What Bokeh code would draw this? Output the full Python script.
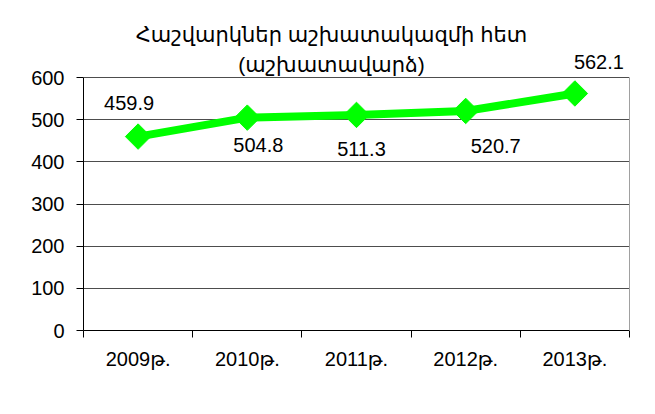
import numpy as np
from bokeh.plotting import figure
from bokeh.models import (Range1d, FixedTicker, ColumnDataSource, LabelSet, Label,
                          LinearAxis)
from bokeh.core.properties import value
from bokeh.embed import file_html
from bokeh.resources import INLINE

# ---- data ----
categories = ["2009թ.", "2010թ.", "2011թ.", "2012թ.", "2013թ."]
values = [459.9, 504.8, 511.3, 520.7, 562.1]
y_ticks = [0, 100, 200, 300, 400, 500, 600]
title_lines = ["Հաշվարկներ աշխատակազմի հետ", "(աշխատավարձ)"]

# label placement (screen px, relative to each point; positive dy = up)
label_dx = [-9, 11, 5, 30, 24]
label_dy = [34, -27, -34, -35, 31]

FONT = "Liberation Sans, DejaVu Sans, sans-serif"
GREEN = "#00FF00"

n = len(categories)
xs = [i + 0.5 for i in range(n)]
y_max = y_ticks[-1]

# layout (px)
W, H = 645, 400
left, right, top, bottom = 83, 16, 2, 70
plot_top = 77          # where y_max sits
frame_h = H - top - bottom
y_end = y_max * frame_h / (H - bottom - plot_top)

p = figure(width=W, height=H, output_backend="svg", toolbar_location=None,
           x_range=Range1d(0, n), y_range=Range1d(0, y_end),
           min_border_left=left, min_border_right=right, min_border_top=top,
           min_border_bottom=bottom)
p.background_fill_color = "white"
p.border_fill_color = "white"
p.outline_line_color = None

# grid
p.xgrid.visible = False
p.ygrid.ticker = FixedTicker(ticks=y_ticks)
p.ygrid.grid_line_color = "#4d4d4d"
p.ygrid.grid_line_width = 1

# y axis
ya = p.yaxis[0]
ya.ticker = FixedTicker(ticks=y_ticks)
ya.bounds = (0, y_max)
ya.axis_line_color = "black"
ya.major_tick_line_color = "black"
ya.major_tick_in = 0
ya.major_tick_out = 7
ya.minor_tick_line_color = None
ya.major_label_text_font = FONT
ya.major_label_text_font_size = "20px"
ya.major_label_text_color = "black"
ya.major_label_standoff = 12

# right border of the plot area
ra = LinearAxis(bounds=(0, y_max), ticker=FixedTicker(ticks=[]),
                axis_line_color="#a0a0a0", major_tick_line_color=None,
                minor_tick_line_color=None, major_label_text_font_size="0px")
p.add_layout(ra, "right")

# x axis
xa = p.xaxis[0]
xa.ticker = FixedTicker(ticks=xs, minor_ticks=list(range(n + 1)))
xa.major_label_overrides = {x: c for x, c in zip(xs, categories)}
xa.axis_line_color = "black"
xa.major_tick_in = 0
xa.major_tick_out = 0
xa.major_tick_line_color = None
xa.minor_tick_line_color = "black"
xa.minor_tick_in = 0
xa.minor_tick_out = 7
xa.major_label_text_font = FONT
xa.major_label_text_font_size = "20px"
xa.major_label_text_color = "black"
xa.major_label_standoff = 10

src = ColumnDataSource(dict(x=xs, y=values, lab=[f"{v:.1f}" for v in values],
                            dx=label_dx, dy=label_dy))

p.line("x", "y", source=src, line_color=GREEN, line_width=8, line_join="miter")
p.scatter("x", "y", source=src, marker="square", size=18, angle=np.pi / 4,
          fill_color=GREEN, line_color=GREEN)

labels = LabelSet(x="x", y="y", text="lab", source=src, x_offset="dx", y_offset="dy",
                  text_align="center", text_baseline="middle",
                  text_font=value(FONT), text_font_size=value("20px"),
                  text_color=value("black"))
p.add_layout(labels)

# title (two lines, above the plot area)
p.add_layout(Label(x=n / 2, y=y_max, x_offset=-25, y_offset=43, text=title_lines[0],
                   text_align="center", text_baseline="alphabetic",
                   text_font=FONT, text_font_size="21px", text_color="black"))
p.add_layout(Label(x=n / 2, y=y_max, x_offset=-25, y_offset=13, text=title_lines[1],
                   text_align="center", text_baseline="alphabetic",
                   text_font=FONT, text_font_size="21px", text_color="black"))

open("out.html", "w").write(file_html(p, INLINE))
